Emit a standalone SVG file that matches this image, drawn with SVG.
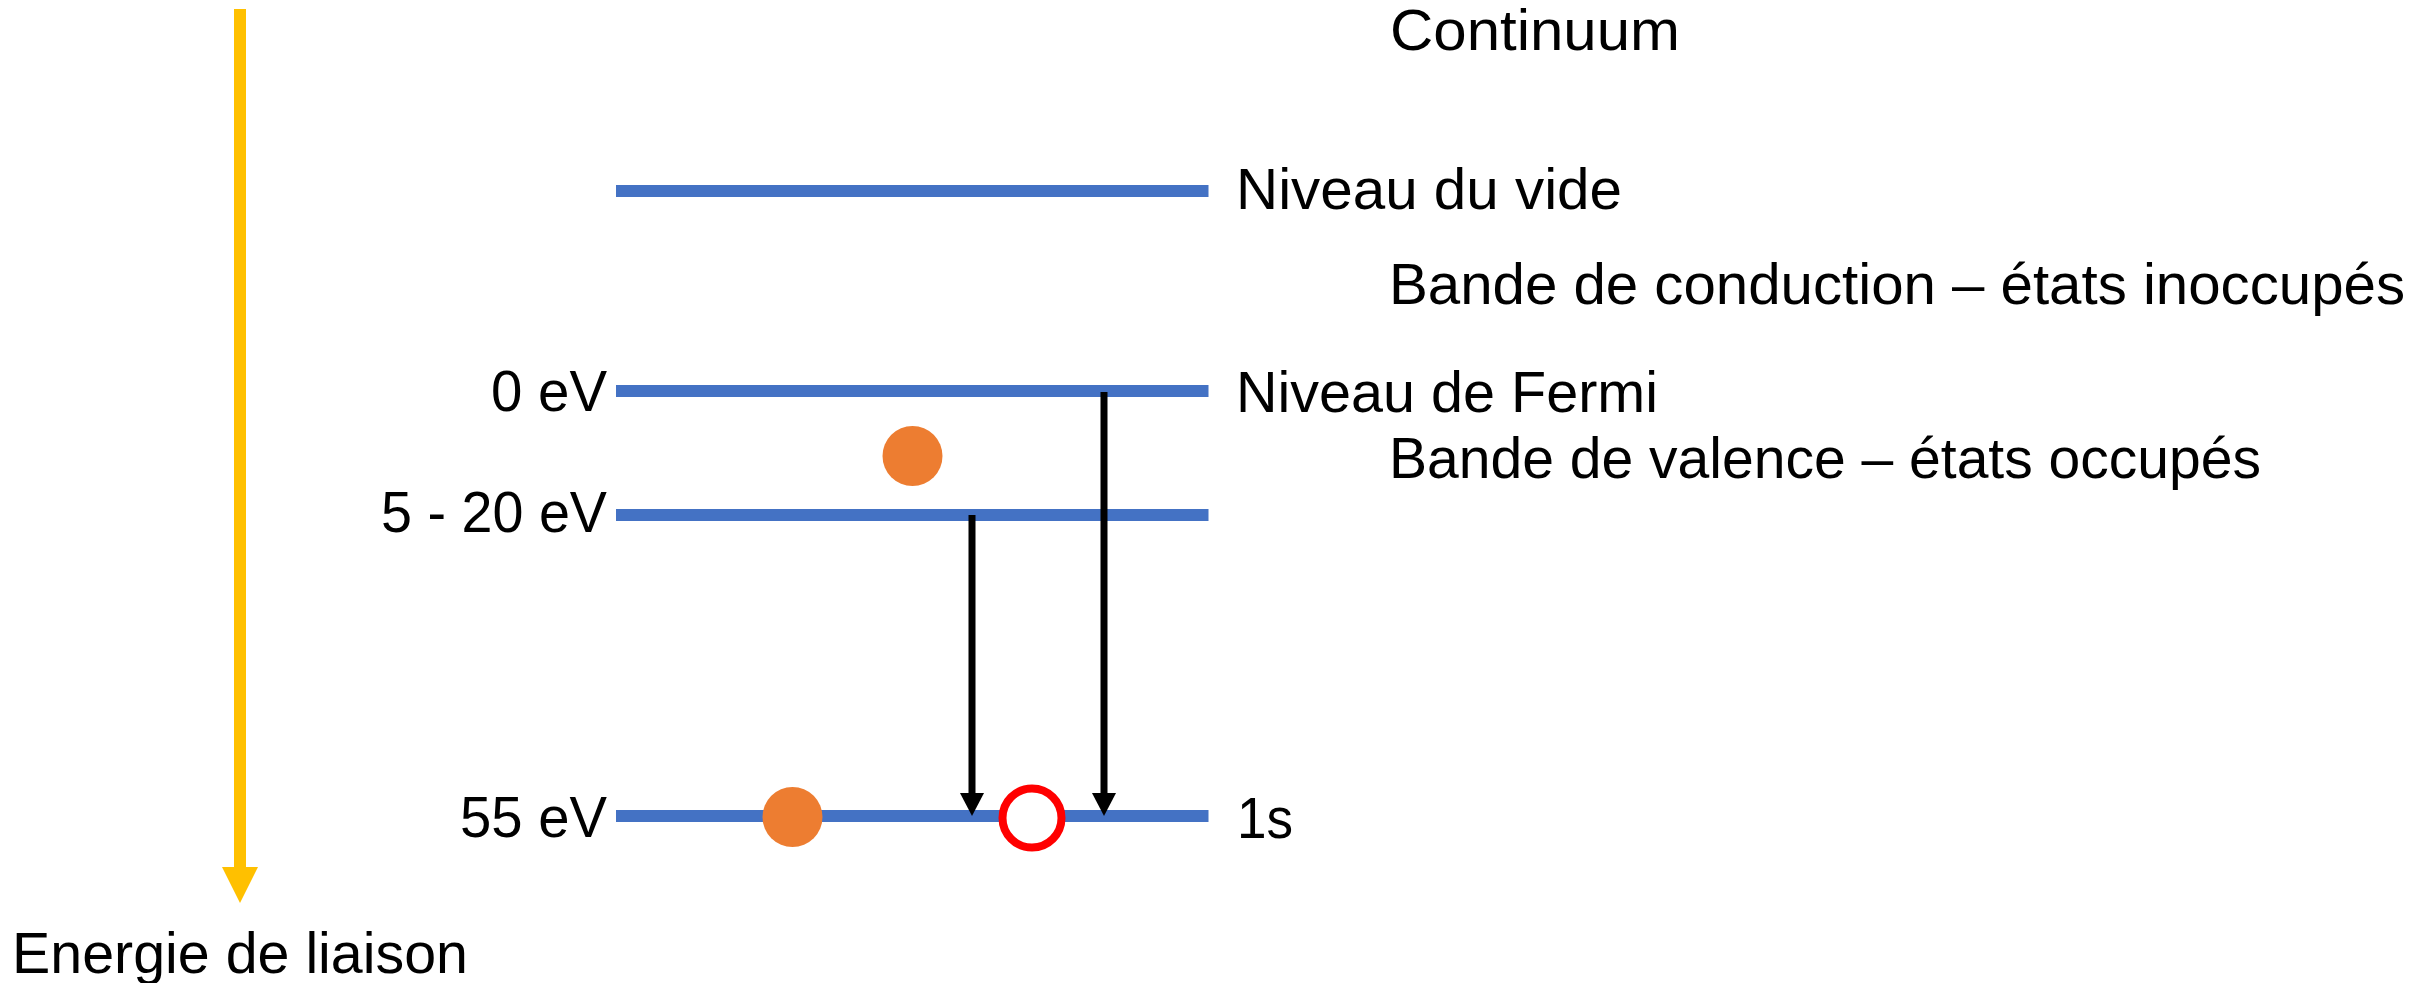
<svg xmlns="http://www.w3.org/2000/svg" width="2432" height="983" viewBox="0 0 2432 983">
  <style>
    text { font-family: "Liberation Sans", Arial, sans-serif; font-size: 57px; fill: #000000; }
    .lvl { stroke: #4472C4; stroke-width: 12; fill: none; }
    .tr { stroke: #000000; stroke-width: 7; fill: none; }
    .el { fill: #ED7D31; }
    .hole { fill: #FFFFFF; stroke: #FF0000; stroke-width: 8; }
    .axis { fill: #FFC000; }
  </style>
  <defs>
    <marker id="ah" markerUnits="userSpaceOnUse" markerWidth="24" markerHeight="24" refX="0" refY="0" orient="auto" overflow="visible">
      <path d="M0,-12 L23,0 L0,12 Z" fill="#000000"/>
    </marker>
  </defs>
  <rect width="2432" height="983" fill="#FFFFFF"/>

  <g id="axis-energie">
    <rect class="axis" x="234" y="9" width="12" height="860"/>
    <polygon class="axis" points="222,867 258,867 240,903"/>
    <text x="12" y="973" textLength="456" lengthAdjust="spacingAndGlyphs">Energie de liaison</text>
  </g>

  <g id="continuum">
    <text x="1390" y="50" textLength="290" lengthAdjust="spacingAndGlyphs">Continuum</text>
  </g>

  <g id="niveau-vide">
    <line class="lvl" x1="616" y1="191" x2="1208.5" y2="191"/>
    <text x="1236" y="209" textLength="386" lengthAdjust="spacingAndGlyphs">Niveau du vide</text>
  </g>

  <g id="bande-conduction">
    <text x="1389" y="304" textLength="1016" lengthAdjust="spacingAndGlyphs">Bande de conduction – états inoccupés</text>
  </g>

  <g id="niveau-fermi">
    <line class="lvl" x1="616" y1="391" x2="1208.5" y2="391"/>
    <text x="607" y="411" text-anchor="end" textLength="116" lengthAdjust="spacingAndGlyphs">0 eV</text>
    <text x="1236" y="412" textLength="422" lengthAdjust="spacingAndGlyphs">Niveau de Fermi</text>
  </g>

  <g id="bande-valence">
    <text x="1389" y="478" textLength="872" lengthAdjust="spacingAndGlyphs">Bande de valence – états occupés</text>
  </g>

  <g id="niveau-valence">
    <line class="lvl" x1="616" y1="515" x2="1208.5" y2="515"/>
    <text x="607" y="532" text-anchor="end" textLength="226" lengthAdjust="spacingAndGlyphs">5 - 20 eV</text>
  </g>

  <g id="niveau-1s">
    <line class="lvl" x1="616" y1="816" x2="1208.5" y2="816"/>
    <text x="607" y="837" text-anchor="end" textLength="147" lengthAdjust="spacingAndGlyphs">55 eV</text>
    <text x="1237" y="838" textLength="56" lengthAdjust="spacingAndGlyphs">1s</text>
  </g>

  <g id="electron-valence">
    <circle class="el" cx="912.5" cy="456" r="30"/>
  </g>

  <g id="electron-1s">
    <circle class="el" cx="792.5" cy="817" r="30"/>
  </g>

  <g id="trou-1s">
    <circle class="hole" cx="1032" cy="818" r="29.5"/>
  </g>

  <g id="connectors">
    <line class="tr" x1="972" y1="515" x2="972" y2="793" marker-end="url(#ah)"/>
    <line class="tr" x1="1104" y1="392" x2="1104" y2="793" marker-end="url(#ah)"/>
  </g>
</svg>
